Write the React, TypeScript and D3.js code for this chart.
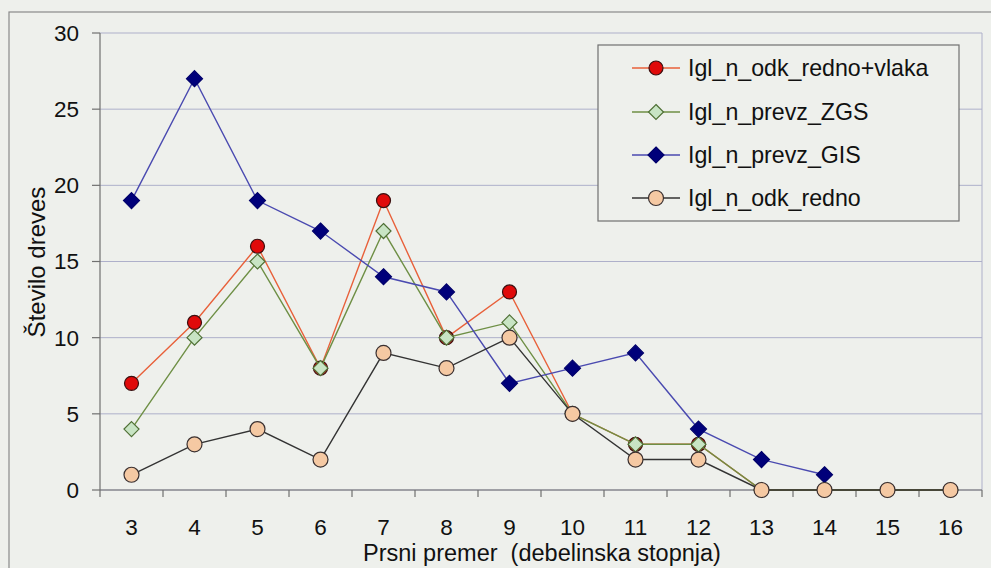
import React from "react";
import * as d3 from "d3";

const categories = [3, 4, 5, 6, 7, 8, 9, 10, 11, 12, 13, 14, 15, 16];
const yTicks = [0, 5, 10, 15, 20, 25, 30];

const seriesNames = [
  "Igl_n_odk_redno+vlaka",
  "Igl_n_prevz_ZGS",
  "Igl_n_prevz_GIS",
  "Igl_n_odk_redno",
];

const redVlaka: (number | null)[] = [7, 11, 16, 8, 19, 10, 13, 5, 3, 3, 0, 0, 0, 0];
const greenZGS: (number | null)[] = [4, 10, 15, 8, 17, 10, 11, 5, 3, 3, 0, 0, 0, 0];
const blueGIS: (number | null)[] = [19, 27, 19, 17, 14, 13, 7, 8, 9, 4, 2, 1, null, null];
const beigeRedno: (number | null)[] = [1, 3, 4, 2, 9, 8, 10, 5, 2, 2, 0, 0, 0, 0];

const W = 991;
const H = 568;
const M = { left: 100, right: 982, top: 33, bottom: 490 };

type Style = {
  line: string;
  shape: "circle" | "diamond";
  fill: string;
  stroke: string;
  r: number;
};

const styles: Style[] = [
  { line: "#e8603a", shape: "circle", fill: "#e00a0a", stroke: "#3a1010", r: 7 },
  { line: "#6e8f45", shape: "diamond", fill: "#c8e4c4", stroke: "#4f7035", r: 7.5 },
  { line: "#4a4ab0", shape: "diamond", fill: "#00007a", stroke: "#00006a", r: 8 },
  { line: "#333333", shape: "circle", fill: "#f5c9a3", stroke: "#3a3030", r: 7.5 },
];

const allSeries = [redVlaka, greenZGS, blueGIS, beigeRedno];

function Marker({ s, x, y }: { s: Style; x: number; y: number }) {
  if (s.shape === "circle") {
    return <circle cx={x} cy={y} r={s.r} fill={s.fill} stroke={s.stroke} strokeWidth={1.2} />;
  }
  const r = s.r;
  return (
    <path
      d={`M${x},${y - r}L${x + r},${y}L${x},${y + r}L${x - r},${y}Z`}
      fill={s.fill}
      stroke={s.stroke}
      strokeWidth={1.2}
    />
  );
}

export default function App() {
  const x = d3
    .scaleBand<number>()
    .domain(categories)
    .range([M.left, M.right])
    .paddingInner(0)
    .paddingOuter(0);
  const y = d3.scaleLinear().domain([0, 30]).range([M.bottom, M.top]);
  const cx = (c: number) => (x(c) as number) + x.bandwidth() / 2;

  const line = d3
    .line<[number, number | null]>()
    .defined((d) => d[1] !== null)
    .x((d) => cx(d[0]))
    .y((d) => y(d[1] as number));

  const font = "Arial, 'Liberation Sans', sans-serif";
  const bandEdges = categories.map((c) => x(c) as number).concat([M.right]);

  const legend = { x: 598, y: 45, w: 361, h: 176 };
  const legendRows = [68, 112, 155, 198];

  return (
    <div style={{ position: "absolute", left: 0, top: 0 }}>
      <svg width={W} height={H} style={{ display: "block" }}>
        <rect x={0} y={0} width={W} height={H} fill="#eef0ec" />
        <rect x={9} y={12} width={W + 10} height={H + 10} fill="none" stroke="#8a8a8a" strokeWidth={1.2} />
        {/* gridlines */}
        {yTicks.map((t) => (
          <line key={"g" + t} x1={M.left} x2={M.right} y1={y(t)} y2={y(t)} stroke="#aeb0ca" strokeWidth={1} />
        ))}
        <line x1={M.right} x2={M.right} y1={M.top} y2={M.bottom} stroke="#aeb0ca" strokeWidth={1} />
        {/* y axis */}
        <line x1={M.left} x2={M.left} y1={M.top} y2={M.bottom} stroke="#707070" strokeWidth={1.2} />
        {yTicks.map((t) => (
          <g key={"yt" + t}>
            <line x1={M.left - 8} x2={M.left} y1={y(t)} y2={y(t)} stroke="#707070" strokeWidth={1.2} />
            <text x={79} y={y(t)} dy="0.35em" textAnchor="end" fontFamily={font} fontSize={22.5} fill="#111">
              {t}
            </text>
          </g>
        ))}
        {/* x axis */}
        <line x1={M.left} x2={M.right} y1={M.bottom} y2={M.bottom} stroke="#707070" strokeWidth={1.2} />
        {bandEdges.map((e, i) => (
          <line key={"xt" + i} x1={e} x2={e} y1={M.bottom} y2={M.bottom + 7} stroke="#707070" strokeWidth={1.2} />
        ))}
        {categories.map((c) => (
          <text key={"xl" + c} x={cx(c)} y={527} dy="0.35em" textAnchor="middle" fontFamily={font} fontSize={22.5} fill="#111">
            {c}
          </text>
        ))}
        <text x={542} y={553} dy="0.35em" textAnchor="middle" fontFamily={font} fontSize={23.5} fill="#111" xmlSpace="preserve">
          {"Prsni premer  (debelinska stopnja)"}
        </text>
        <text
          transform={`translate(37,${262}) rotate(-90)`}
          textAnchor="middle"
          dy="0.35em"
          fontFamily={font}
          fontSize={24}
          fill="#111"
        >
          Število dreves
        </text>
        {/* series */}
        {allSeries.map((vals, si) => {
          const pts = categories.map((c, i) => [c, vals[i]] as [number, number | null]);
          return (
            <g key={"s" + si}>
              <path d={line(pts) || ""} fill="none" stroke={styles[si].line} strokeWidth={1.4} />
              {pts
                .filter((p) => p[1] !== null)
                .map((p) => (
                  <Marker key={p[0]} s={styles[si]} x={cx(p[0])} y={y(p[1] as number)} />
                ))}
            </g>
          );
        })}
        {/* legend */}
        <rect x={legend.x} y={legend.y} width={legend.w} height={legend.h} fill="#eef0ec" stroke="#707070" strokeWidth={1.2} />
        {seriesNames.map((n, i) => (
          <g key={"l" + i}>
            <line x1={632} x2={680} y1={legendRows[i]} y2={legendRows[i]} stroke={styles[i].line} strokeWidth={1.6} />
            <Marker s={styles[i]} x={656} y={legendRows[i]} />
            <text x={688} y={legendRows[i]} dy="0.35em" fontFamily={font} fontSize={23.2} fill="#111">
              {n}
            </text>
          </g>
        ))}
      </svg>
    </div>
  );
}
